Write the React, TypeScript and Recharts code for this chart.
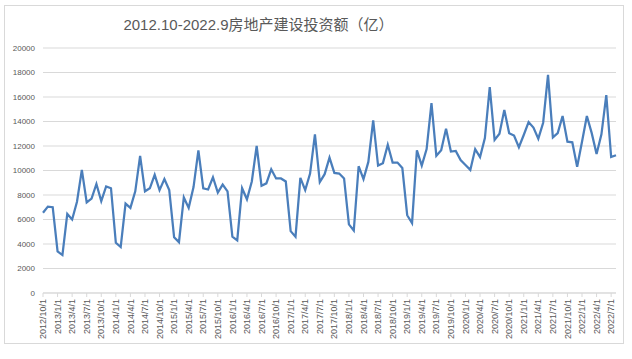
import React from 'react';
import { LineChart, Line, XAxis, YAxis, CartesianGrid } from 'recharts';

// monthly categories, 2012/10 .. 2022/8
const months = [
  '2012/10/1', '2012/11/1', '2012/12/1',
  '2013/1/1', '2013/2/1', '2013/3/1', '2013/4/1', '2013/5/1', '2013/6/1', '2013/7/1', '2013/8/1', '2013/9/1', '2013/10/1', '2013/11/1', '2013/12/1',
  '2014/1/1', '2014/2/1', '2014/3/1', '2014/4/1', '2014/5/1', '2014/6/1', '2014/7/1', '2014/8/1', '2014/9/1', '2014/10/1', '2014/11/1', '2014/12/1',
  '2015/1/1', '2015/2/1', '2015/3/1', '2015/4/1', '2015/5/1', '2015/6/1', '2015/7/1', '2015/8/1', '2015/9/1', '2015/10/1', '2015/11/1', '2015/12/1',
  '2016/1/1', '2016/2/1', '2016/3/1', '2016/4/1', '2016/5/1', '2016/6/1', '2016/7/1', '2016/8/1', '2016/9/1', '2016/10/1', '2016/11/1', '2016/12/1',
  '2017/1/1', '2017/2/1', '2017/3/1', '2017/4/1', '2017/5/1', '2017/6/1', '2017/7/1', '2017/8/1', '2017/9/1', '2017/10/1', '2017/11/1', '2017/12/1',
  '2018/1/1', '2018/2/1', '2018/3/1', '2018/4/1', '2018/5/1', '2018/6/1', '2018/7/1', '2018/8/1', '2018/9/1', '2018/10/1', '2018/11/1', '2018/12/1',
  '2019/1/1', '2019/2/1', '2019/3/1', '2019/4/1', '2019/5/1', '2019/6/1', '2019/7/1', '2019/8/1', '2019/9/1', '2019/10/1', '2019/11/1', '2019/12/1',
  '2020/1/1', '2020/2/1', '2020/3/1', '2020/4/1', '2020/5/1', '2020/6/1', '2020/7/1', '2020/8/1', '2020/9/1', '2020/10/1', '2020/11/1', '2020/12/1',
  '2021/1/1', '2021/2/1', '2021/3/1', '2021/4/1', '2021/5/1', '2021/6/1', '2021/7/1', '2021/8/1', '2021/9/1', '2021/10/1', '2021/11/1', '2021/12/1',
  '2022/1/1', '2022/2/1', '2022/3/1', '2022/4/1', '2022/5/1', '2022/6/1', '2022/7/1', '2022/8/1',
];

// 房地产建设投资额 (亿)
const investment = [
  6550, 7050, 7000,
  3400, 3100, 6450, 6000, 7450, 10050, 7400, 7700, 8900, 7500, 8700, 8550,
  4100, 3750, 7300, 6950, 8300, 11200, 8300, 8550, 9650, 8400, 9300, 8400,
  4550, 4150, 7800, 6950, 8650, 11650, 8550, 8450, 9450, 8200, 8850, 8300,
  4600, 4300, 8550, 7650, 9100, 12000, 8750, 8950, 10100, 9350, 9350, 9100,
  5050, 4600, 9400, 8400, 9750, 12950, 9050, 9700, 11050, 9800, 9750, 9350,
  5600, 5100, 10350, 9300, 10700, 14100, 10400, 10600, 12100, 10650, 10650, 10200,
  6350, 5700, 11650, 10400, 11750, 15500, 11200, 11650, 13400, 11550, 11600, 10850,
  10450, 10050, 11750, 11100, 12650, 16800, 12500, 13000, 14950, 13050, 12850, 11900,
  12900, 13950, 13500, 12600, 13900, 17800, 12700, 13050, 14450, 12350, 12300, 10300,
  12350, 14450, 13050, 11350, 12950, 16150, 11100, 11250,
];

const yTicks = [0, 2000, 4000, 6000, 8000, 10000, 12000, 14000, 16000, 18000, 20000];

const title = '2012.10-2022.9房地产建设投资额（亿）';

const chartData = months.map((m, i) => ({ month: m, value: investment[i] }));

const FONT = '"Liberation Sans", "Noto Sans CJK SC", sans-serif';

const MonthTick = (props: any) => {
  const { x, y, payload } = props;
  return (
    <text
      x={x}
      y={y}
      dy="0.35em"
      transform={`rotate(-90, ${x}, ${y})`}
      textAnchor="end"
      fontSize={9}
      fontFamily={FONT}
      fill="#595959"
    >
      {payload.value}
    </text>
  );
};

export default function App() {
  return (
    <div style={{ position: 'absolute', left: 0, top: 0, width: 632, height: 359, background: '#fff' }}>
      <div
        style={{
          position: 'absolute',
          left: 4,
          top: 5,
          width: 620,
          height: 339,
          border: '1px solid #d9d9d9',
          boxSizing: 'border-box',
        }}
      />
      <div
        style={{
          position: 'absolute',
          left: 0,
          top: 15,
          width: 517,
          textAlign: 'center',
          fontFamily: FONT,
          fontSize: 15,
          color: '#595959',
          lineHeight: '20px',
        }}
      >
        {title}
      </div>
      <div style={{ position: 'absolute', left: 0, top: 0 }}>
        <LineChart
          width={632}
          height={359}
          data={chartData}
          margin={{ top: 48, right: 16, left: 0, bottom: 16 }}
        >
          <CartesianGrid vertical={false} stroke="#d9d9d9" />
          <XAxis
            dataKey="month"
            interval={2}
            height={50}
            tick={<MonthTick />}
            tickSize={4}
            tickMargin={2}
            axisLine={{ stroke: '#d9d9d9' }}
            tickLine={{ stroke: '#d9d9d9' }}
          />
          <YAxis
            width={43}
            domain={[0, 20000]}
            ticks={yTicks}
            axisLine={false}
            tickLine={false}
            tick={{ fontSize: 8, fill: '#595959', fontFamily: FONT }}
          />
          <Line
            type="linear"
            dataKey="value"
            stroke="#4A7EBB"
            strokeWidth={2.25}
            dot={false}
            isAnimationActive={false}
          />
        </LineChart>
      </div>
    </div>
  );
}
